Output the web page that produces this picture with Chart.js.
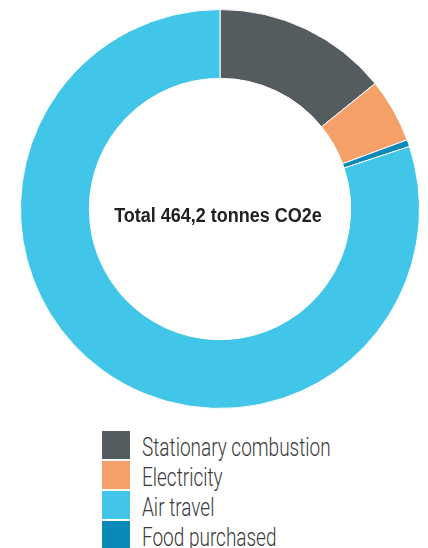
<!DOCTYPE html>
<html>
<head>
<meta charset="utf-8">
<script src="https://cdn.jsdelivr.net/npm/chart.js@4/dist/chart.umd.min.js"></script>
<style>
  html, body { margin: 0; padding: 0; background: #fff; }
  body { width: 428px; height: 548px; position: relative; overflow: hidden; }
  #wrap { position: absolute; left: 20px; top: 9px; width: 400px; height: 400px; }
  #legenda { position: absolute; left: 102px; top: 431px; }
  .item { height: 28px; margin-bottom: 2px; position: relative; }
  .caixa { position: absolute; left: 0; top: 0; width: 28px; height: 28px; }
  .texto {
    position: absolute; left: 40px; top: 2px; line-height: 28px;
    font-family: Roboto, "Liberation Sans", Arial, sans-serif; font-weight: 300; font-size: 26px;
    color: #3a3a3a; white-space: nowrap;
    transform: scaleX(0.73); transform-origin: left center;
  }
</style>
</head>
<body>
<div id="wrap"><canvas id="grafico"></canvas></div>
<div id="legenda"></div>
<script>
// categorias na ordem da legenda
const categorias = ["Stationary combustion", "Electricity", "Air travel", "Food purchased"];
const valores = [65.8, 24.1, 371.7, 2.6]; // tonnes CO2e
const cores = ["#555c60", "#f5a069", "#41c5e9", "#0b89b8"];
// ordem das fatias no sentido horário a partir do topo
const ordemFatias = [0, 1, 3, 2];
const textoCentro = "Total 464,2 tonnes CO2e";

// legenda em HTML
const legenda = document.getElementById("legenda");
categorias.forEach((nome, i) => {
  const item = document.createElement("div");
  item.className = "item";
  item.innerHTML = '<div class="caixa" style="background:' + cores[i] + '"></div>' +
    '<div class="texto">' + nome + "</div>";
  legenda.appendChild(item);
});

const textoCentroPlugin = {
  id: "textoCentro",
  afterDraw(chart) {
    const ctx = chart.ctx;
    const meta = chart.getDatasetMeta(0).data[0];
    ctx.save();
    ctx.translate(meta.x - 2, meta.y + 7);
    ctx.scale(0.9, 1);
    ctx.font = "bold 20px 'Liberation Sans', Arial, sans-serif";
    ctx.fillStyle = "#222";
    ctx.textAlign = "center";
    ctx.textBaseline = "middle";
    ctx.fillText(textoCentro, 0, 0);
    ctx.restore();
  },
};

new Chart(document.getElementById("grafico"), {
  type: "doughnut",
  data: {
    labels: ordemFatias.map((i) => categorias[i]),
    datasets: [
      {
        data: ordemFatias.map((i) => valores[i]),
        backgroundColor: ordemFatias.map((i) => cores[i]),
        borderColor: "#fff",
        borderWidth: 1,
      },
    ],
  },
  options: {
    responsive: true,
    maintainAspectRatio: false,
    animation: false,
    cutout: "65.5%",
    layout: { padding: 0 },
    plugins: {
      legend: { display: false },
      tooltip: { enabled: false },
    },
  },
  plugins: [textoCentroPlugin],
});
</script>
</body>
</html>
